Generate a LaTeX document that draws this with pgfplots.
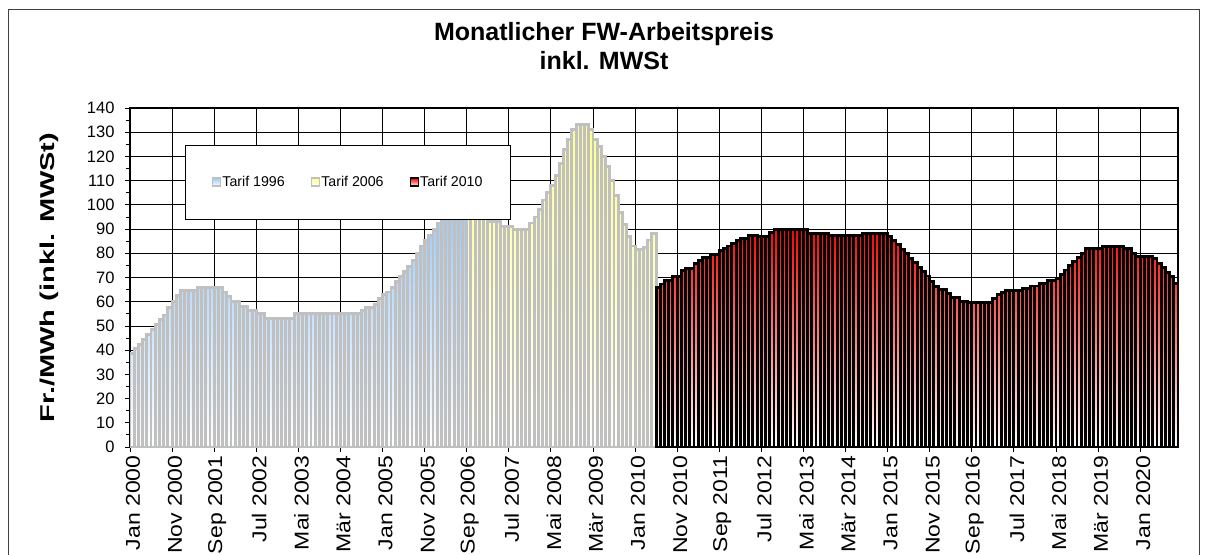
\documentclass[border=0pt]{standalone}
\usepackage{graphicx}
\usepackage{pgfplots}
\pgfplotsset{compat=1.18}
\usepackage{pgfplotstable}
\usepackage{fontspec}
\setmainfont{Liberation Sans}
\definecolor{tblue}{RGB}{153,204,255}
\definecolor{tyellow}{RGB}{255,255,140}
\definecolor{tred}{RGB}{255,0,0}
\definecolor{tgray}{RGB}{192,192,192}
\newcommand\xl[1]{\scalebox{1.15}[1]{#1}}

\pgfplotstableread{
x y
0.5 38.5
1.5 40.5
2.5 42.5
3.5 44.5
4.5 46.5
5.5 48.5
6.5 50.5
7.5 52.5
8.5 54.5
9.5 57.5
10.5 60
11.5 62.5
12.5 64.5
13.5 64.5
14.5 64.5
15.5 64.5
16.5 66
17.5 66
18.5 66
19.5 66
20.5 66
21.5 66
22.5 64
23.5 62
24.5 60
25.5 60
26.5 58
27.5 58
28.5 56.5
29.5 56.5
30.5 55
31.5 55
32.5 53
33.5 53
34.5 53
35.5 53
36.5 53
37.5 53
38.5 53
39.5 55
40.5 55
41.5 55
42.5 55
43.5 55
44.5 55
45.5 55
46.5 55
47.5 55
48.5 55
49.5 55
50.5 55
51.5 55
52.5 55
53.5 55
54.5 55
55.5 56.5
56.5 57.5
57.5 57.5
58.5 59
59.5 61.5
60.5 63
61.5 64
62.5 66
63.5 68.5
64.5 70.5
65.5 72.5
66.5 74.5
67.5 77
68.5 80
69.5 83
70.5 85.5
71.5 87.5
72.5 90
73.5 92.5
74.5 95
75.5 96
76.5 96
77.5 96
78.5 96
79.5 96
}\tarifA

\pgfplotstableread{
x y
80.5 96
81.5 96
82.5 96
83.5 96
84.5 95
85.5 93
86.5 93
87.5 93
88.5 91
89.5 91
90.5 91
91.5 90
92.5 90
93.5 90
94.5 90
95.5 92.5
96.5 95
97.5 98
98.5 102
99.5 105
100.5 108
101.5 112
102.5 117
103.5 123
104.5 127
105.5 131
106.5 133
107.5 133
108.5 133
109.5 131
110.5 127
111.5 124
112.5 120
113.5 116
114.5 110
115.5 104
116.5 97
117.5 92
118.5 87
119.5 83
120.5 81.5
121.5 81.5
122.5 82.5
123.5 85.5
124.5 88
}\tarifB

\pgfplotstableread{
x y
125.5 66
126.5 67.3
127.5 68.6
128.5 68.6
129.5 70.4
130.5 70.4
131.5 72.8
132.5 73.9
133.5 73.9
134.5 75.6
135.5 77
136.5 78.3
137.5 78.3
138.5 79.4
139.5 79.4
140.5 81.1
141.5 82.1
142.5 83
143.5 84.1
144.5 85.3
145.5 86.2
146.5 86.2
147.5 87.2
148.5 87.2
149.5 87
150.5 87
151.5 87
152.5 88.6
153.5 90
154.5 90
155.5 90
156.5 90
157.5 90
158.5 90
159.5 90
160.5 90
161.5 88.3
162.5 88.3
163.5 88.3
164.5 88.3
165.5 88.3
166.5 87.2
167.5 87.2
168.5 87.2
169.5 87.2
170.5 87.2
171.5 87.2
172.5 87.2
173.5 87.2
174.5 88.3
175.5 88.3
176.5 88.3
177.5 88.3
178.5 88.3
179.5 88.3
180.5 86.8
181.5 85.2
182.5 83.5
183.5 81.7
184.5 79.9
185.5 78
186.5 76.2
187.5 74.3
188.5 72.4
189.5 70.6
190.5 68.5
191.5 66.4
192.5 65
193.5 65
194.5 63.4
195.5 61.6
196.5 61.6
197.5 60.2
198.5 60.2
199.5 59.5
200.5 59.5
201.5 59.5
202.5 59.5
203.5 59.5
204.5 59.5
205.5 61.4
206.5 62.8
207.5 63.9
208.5 64.6
209.5 64.6
210.5 64.6
211.5 64.6
212.5 65.5
213.5 65.5
214.5 66.5
215.5 66.5
216.5 67.6
217.5 67.6
218.5 68.6
219.5 68.6
220.5 69.7
221.5 71.3
222.5 73.1
223.5 74.9
224.5 76.6
225.5 78.2
226.5 80
227.5 81.8
228.5 81.8
229.5 81.8
230.5 81.8
231.5 82.8
232.5 82.8
233.5 82.8
234.5 82.8
235.5 82.8
236.5 81.8
237.5 81.8
238.5 80
239.5 78.6
240.5 78.6
241.5 78.6
242.5 78.6
243.5 77.7
244.5 75.9
245.5 74.1
246.5 72.1
247.5 70.3
248.5 67.6
}\tarifC

\begin{document}
\begin{tikzpicture}[x=1pt,y=1pt]
\useasboundingbox (0,0) rectangle (1207,554);
\fill[white] (0,0) rectangle (1207,554);
\draw[line width=1pt, black!75] (8,-5) rectangle (1199,544);
\node[align=center, font=\fontsize{25}{29}\selectfont\bfseries] at (604,508) {Monatlicher FW-Arbeitspreis\\inkl. MWSt};
\begin{axis}[
  at={(130pt,107pt)}, anchor=south west,
  scale only axis, width=1048pt, height=339pt,
  xmin=0, xmax=249, ymin=0, ymax=140,
  enlargelimits=false,
  ybar, bar width=1,
  /pgf/number format/assume math mode=true,
  ytick={0,10,...,140}, minor y tick num=1,
  xtick={0,10,...,240},
  xticklabels={\xl{Jan 2000}, \xl{Nov 2000}, \xl{Sep 2001}, \xl{Jul 2002}, \xl{Mai 2003}, \xl{Mär 2004}, \xl{Jan 2005}, \xl{Nov 2005}, \xl{Sep 2006}, \xl{Jul 2007}, \xl{Mai 2008}, \xl{Mär 2009}, \xl{Jan 2010}, \xl{Nov 2010}, \xl{Sep 2011}, \xl{Jul 2012}, \xl{Mai 2013}, \xl{Mär 2014}, \xl{Jan 2015}, \xl{Nov 2015}, \xl{Sep 2016}, \xl{Jul 2017}, \xl{Mai 2018}, \xl{Mär 2019}, \xl{Jan 2020}},
  tick pos=left, tick align=outside,
  major tick length=5pt, minor tick length=4pt,
  tick style={black, line width=0.8pt},
  xmajorgrids, ymajorgrids,
  grid style={black, line width=0.8pt},
  axis line style={black, line width=1.6pt},
  yticklabel style={font=\fontsize{16.5}{16.5}\selectfont, xshift=-7pt},
  xticklabel style={font=\fontsize{20}{20}\selectfont, rotate=90, anchor=east, yshift=-3pt},
  every axis y label/.style={at={(axis description cs:-0.0773,0.5)}, rotate=90, anchor=center},
  ylabel={\scalebox{1.45}[1]{\fontsize{20}{20}\selectfont\bfseries Fr./MWh (inkl. MWSt)}},
  legend columns=3,
  legend style={at={(axis description cs:0.0525,0.891)}, anchor=north west,
    draw=black, line width=0.8pt, fill=white,
    inner xsep=26.5pt, inner ysep=30pt,
    font=\fontsize{14.2}{15}\selectfont,
    nodes={inner sep=1pt},
    /tikz/every even column/.append style={column sep=25pt}},
  legend cell align=left,
  myleg/.style={legend image code/.code={\draw[##1, line width=1.5pt] (0pt,-4pt) rectangle (8pt,4pt);}},
]
\addplot[ybar, bar shift=0pt, draw=tgray, line width=2.9pt, top color=tblue, bottom color=white, myleg] table[x=x,y=y] {\tarifA};
\addplot[ybar, bar shift=0pt, draw=tgray, line width=2.9pt, top color=tyellow, bottom color=white, myleg] table[x=x,y=y] {\tarifB};
\addplot[ybar, bar shift=0pt, draw=black, line width=2.9pt, top color=tred, bottom color=white, myleg] table[x=x,y=y] {\tarifC};
\legend{Tarif 1996, Tarif 2006, Tarif 2010}
\end{axis}
\end{tikzpicture}
\end{document}
